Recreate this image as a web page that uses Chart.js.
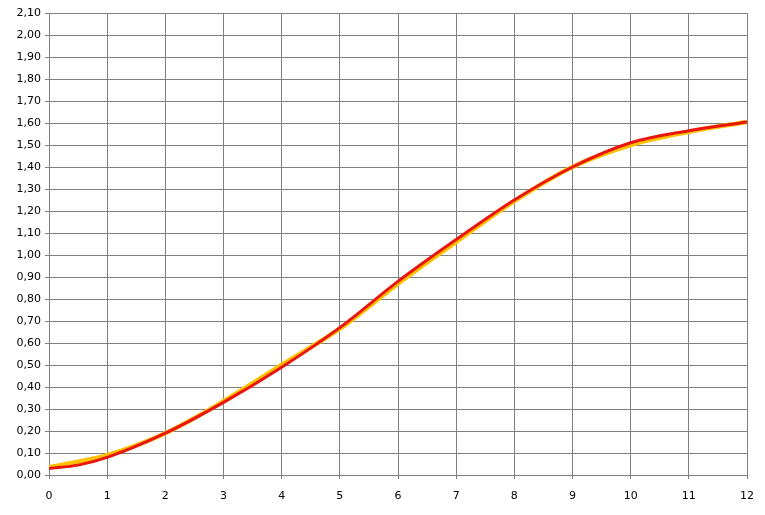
<!DOCTYPE html>
<html>
<head>
<meta charset="utf-8">
<script src="https://cdn.jsdelivr.net/npm/chart.js@4"></script>
<style>
  html, body { margin: 0; padding: 0; background: #fff; }
  #wrap { width: 765px; height: 515px; }
</style>
</head>
<body>
<div id="wrap"><canvas id="curveChart"></canvas></div>
<script>
// x positions and the two series
const xValues = [0, 0.5, 1, 2, 3, 4, 5, 6, 7, 8, 9, 10, 11, 12];
const redValues = [0.03, 0.045, 0.08, 0.19, 0.33, 0.49, 0.67, 0.88, 1.07, 1.25, 1.40, 1.51, 1.565, 1.605];
const yellowValues = [0.035, 0.06, 0.09, 0.19, 0.335, 0.50, 0.665, 0.87, 1.06, 1.245, 1.40, 1.50, 1.56, 1.605];
const yMax = 2.1;
const yStep = 0.1;

const toPoints = vals => xValues.map((x, i) => ({ x: x, y: vals[i] }));

document.addEventListener('DOMContentLoaded', () => {
    const ctx = document.getElementById('curveChart');
    new Chart(ctx, {
        type: 'line',
        data: {
            datasets: [{
                label: 'Curve B',
                data: toPoints(redValues),
                borderColor: '#E8160C',
                borderWidth: 3,
                pointRadius: 0,
                cubicInterpolationMode: 'monotone',
                fill: false
            }, {
                label: 'Curve A',
                data: toPoints(yellowValues),
                borderColor: '#FFC000',
                borderWidth: 4.5,
                pointRadius: 0,
                cubicInterpolationMode: 'monotone',
                fill: false
            }]
        },
        options: {
            responsive: true,
            maintainAspectRatio: false,
            animation: false,
            layout: { padding: { top: 13, right: 17, left: 0, bottom: 0 } },
            plugins: {
                legend: { display: false },
                tooltip: { enabled: false }
            },
            scales: {
                x: {
                    type: 'linear',
                    min: 0,
                    max: 12,
                    ticks: {
                        stepSize: 1,
                        color: '#000',
                        font: { family: 'DejaVu Sans', size: 11 },
                        padding: 11,
                        maxRotation: 0
                    },
                    grid: { color: '#808080', lineWidth: 1, tickLength: 4 },
                    border: { color: '#808080' },
                    afterFit: scale => { scale.height = 40; }
                },
                y: {
                    min: 0,
                    max: yMax,
                    ticks: {
                        stepSize: yStep,
                        color: '#000',
                        font: { family: 'DejaVu Sans', size: 11 },
                        padding: 4,
                        callback: v => v.toFixed(2).replace('.', ',')
                    },
                    grid: { color: '#808080', lineWidth: 1, tickLength: 4 },
                    border: { color: '#808080' },
                    afterFit: scale => { scale.width = 49; }
                }
            }
        }
    });
});
</script>
</body>
</html>
